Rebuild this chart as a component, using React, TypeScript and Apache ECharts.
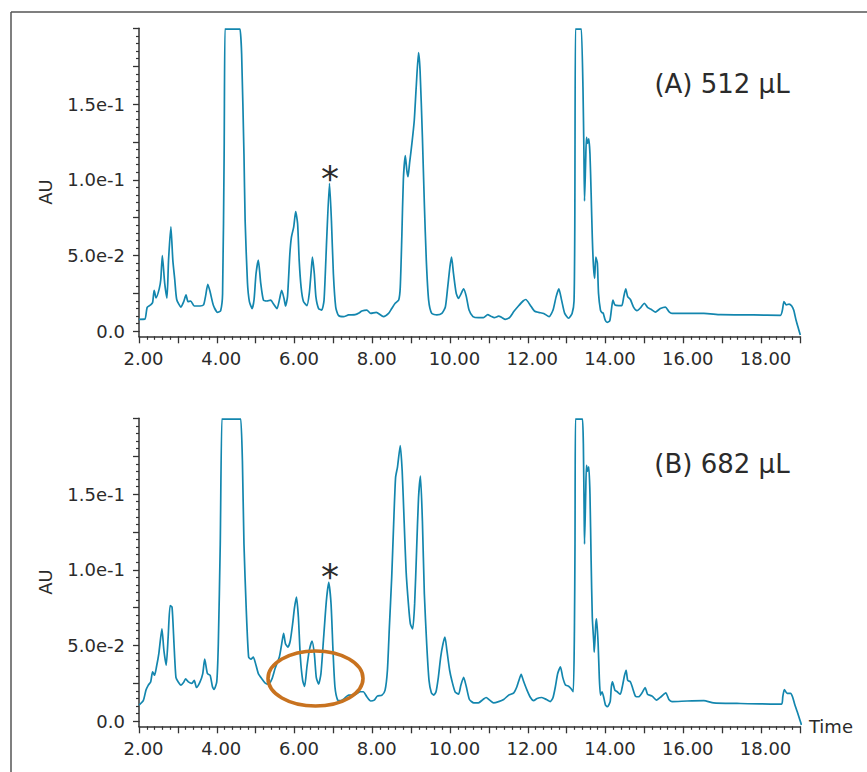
import React, { useEffect, useRef } from "react";
import * as echarts from "echarts";

// Chromatogram (A) 512 µL — retention time (min) and absorbance (AU)
const timeA = [
  2.0, 2.15, 2.21, 2.3, 2.35, 2.39, 2.44, 2.52, 2.56, 2.6, 2.66, 2.72, 2.76, 2.82, 2.87, 2.92, 2.97,
  3.08, 3.15, 3.21, 3.26, 3.33, 3.42, 3.57, 3.66, 3.71, 3.77, 3.83, 3.91, 4.02, 4.1, 4.15, 4.19,
  4.21, 4.23, 4.58, 4.6, 4.64, 4.7, 4.73, 4.79, 4.84, 4.91, 4.96, 5.01, 5.07, 5.13, 5.2, 5.29, 5.39, 5.46,
  5.55, 5.61, 5.67, 5.73, 5.77, 5.82, 5.88, 5.92, 5.98, 6.03, 6.08, 6.12, 6.17, 6.23, 6.32, 6.38,
  6.43, 6.46, 6.51, 6.55, 6.62, 6.7, 6.76, 6.83, 6.9, 6.95, 7.0, 7.06, 7.13, 7.26, 7.39, 7.56,
  7.67, 7.73, 7.86, 7.96, 8.1, 8.29, 8.42, 8.5, 8.59, 8.68, 8.72, 8.76, 8.8, 8.85, 8.89, 8.92,
  8.96, 9.02, 9.08, 9.13, 9.19, 9.23, 9.29, 9.34, 9.39, 9.45, 9.53, 9.66, 9.79, 9.88, 9.94, 10.0,
  10.04, 10.09, 10.16, 10.22, 10.28, 10.35, 10.42, 10.49, 10.59, 10.73, 10.86, 10.97, 11.05,
  11.14, 11.25, 11.34, 11.42, 11.53, 11.64, 11.76, 11.88, 11.95, 12.06, 12.17, 12.28, 12.41,
  12.55, 12.65, 12.73, 12.8, 12.87, 12.95, 13.05, 13.14, 13.19, 13.21, 13.225, 13.24, 13.36, 13.38, 13.42,
  13.445, 13.46, 13.49, 13.51, 13.54, 13.57, 13.6, 13.63, 13.66, 13.69, 13.72, 13.75, 13.79,
  13.82, 13.87, 13.91, 13.94, 13.99, 14.04, 14.11, 14.16, 14.19, 14.24, 14.34, 14.42, 14.47,
  14.52, 14.57, 14.64, 14.72, 14.81, 14.91, 15.0, 15.08, 15.17, 15.28, 15.41, 15.54, 15.63,
  15.71, 16.01, 16.53, 16.96, 17.81, 18.5, 18.55, 18.59, 18.65, 18.72, 18.79, 18.84, 18.9,
  18.96, 19.01,
];
const auA = [
  0.0079, 0.008, 0.0158, 0.0174, 0.019, 0.027, 0.022, 0.028, 0.034, 0.05, 0.032, 0.022, 0.047,
  0.069, 0.047, 0.034, 0.021, 0.016, 0.0196, 0.024, 0.0196, 0.02, 0.0167, 0.0167, 0.0174, 0.0229,
  0.031, 0.026, 0.0174, 0.0125, 0.0136, 0.025, 0.117, 0.1995, 0.1995, 0.1995, 0.1995, 0.183, 0.117, 0.073, 0.032,
  0.0196, 0.015, 0.021, 0.038, 0.047, 0.032, 0.0206, 0.02, 0.0206, 0.018, 0.015, 0.0206, 0.027,
  0.0217, 0.0167, 0.0229, 0.051, 0.062, 0.069, 0.079, 0.071, 0.047, 0.029, 0.0196, 0.017, 0.025,
  0.04, 0.049, 0.038, 0.0229, 0.015, 0.014, 0.0206, 0.062, 0.0977, 0.073, 0.038, 0.016, 0.0105,
  0.0097, 0.0108, 0.011, 0.0123, 0.0134, 0.014, 0.0118, 0.0125, 0.0097, 0.0118, 0.015, 0.0185,
  0.0206, 0.029, 0.062, 0.1, 0.116, 0.106, 0.102, 0.111, 0.124, 0.139, 0.161, 0.184, 0.172, 0.128,
  0.084, 0.047, 0.0206, 0.0118, 0.0108, 0.0118, 0.016, 0.029, 0.043, 0.049, 0.038, 0.025, 0.0217,
  0.0246, 0.028, 0.0229, 0.014, 0.0097, 0.009, 0.009, 0.011, 0.01, 0.009, 0.01, 0.009, 0.0079,
  0.009, 0.013, 0.0167, 0.02, 0.021, 0.0174, 0.0134, 0.0125, 0.0118, 0.0097, 0.014, 0.0229, 0.028,
  0.0206, 0.0118, 0.0086, 0.0118, 0.02, 0.07, 0.1995, 0.1995, 0.1995, 0.1995, 0.161, 0.117, 0.086, 0.113, 0.128,
  0.124, 0.127, 0.117, 0.091, 0.062, 0.043, 0.035, 0.049, 0.045, 0.025, 0.014, 0.0123, 0.012,
  0.0075, 0.0059, 0.007, 0.016, 0.0206, 0.0174, 0.017, 0.017, 0.0229, 0.028, 0.0229, 0.021, 0.016,
  0.0136, 0.0158, 0.0185, 0.0158, 0.0145, 0.0127, 0.015, 0.016, 0.013, 0.0118, 0.0118, 0.0118,
  0.011, 0.0108, 0.0105, 0.014, 0.0196, 0.0174, 0.018, 0.0167, 0.014, 0.0075, 0.002, -0.0024,
];

// Chromatogram (B) 682 µL
const timeB = [
  2.0, 2.11, 2.18, 2.24, 2.3, 2.35, 2.4, 2.45, 2.51, 2.59, 2.64, 2.7, 2.75, 2.8, 2.85, 2.9, 2.95,
  3.01, 3.08, 3.14, 3.2, 3.27, 3.36, 3.42, 3.48, 3.57, 3.64, 3.69, 3.76, 3.83, 3.89, 3.93, 4.0,
  4.04, 4.09, 4.13, 4.15, 4.6, 4.62, 4.66, 4.7, 4.76, 4.82, 4.88, 4.94, 5.01, 5.07, 5.16, 5.24, 5.33, 5.42,
  5.5, 5.61, 5.67, 5.72, 5.77, 5.83, 5.89, 5.95, 6.0, 6.05, 6.1, 6.15, 6.21, 6.26, 6.32, 6.38,
  6.45, 6.51, 6.56, 6.62, 6.68, 6.75, 6.82, 6.88, 6.94, 6.99, 7.04, 7.11, 7.19, 7.28, 7.39, 7.52,
  7.69, 7.77, 7.86, 7.96, 8.05, 8.13, 8.25, 8.33, 8.39, 8.44, 8.5, 8.55, 8.6, 8.65, 8.72, 8.77,
  8.82, 8.87, 8.93, 8.98, 9.04, 9.09, 9.14, 9.19, 9.24, 9.29, 9.34, 9.4, 9.46, 9.52, 9.58, 9.64,
  9.7, 9.76, 9.82, 9.87, 9.92, 9.99, 10.05, 10.13, 10.22, 10.28, 10.35, 10.42, 10.5, 10.61, 10.73,
  10.85, 10.93, 11.02, 11.12, 11.25, 11.38, 11.51, 11.64, 11.72, 11.78, 11.83, 11.89, 11.98,
  12.07, 12.15, 12.24, 12.36, 12.48, 12.58, 12.65, 12.71, 12.77, 12.84, 12.9, 12.97, 13.05,
  13.11, 13.17, 13.2, 13.215, 13.225, 13.24, 13.39, 13.41, 13.43, 13.45, 13.46, 13.49, 13.51, 13.54, 13.57,
  13.6, 13.63, 13.66, 13.7, 13.71, 13.75, 13.77, 13.81, 13.84, 13.87, 13.91, 13.95, 14.0, 14.05,
  14.12, 14.15, 14.18, 14.24, 14.3, 14.38, 14.44, 14.49, 14.53, 14.57, 14.64, 14.7, 14.77, 14.85,
  14.94, 15.02, 15.08, 15.2, 15.31, 15.43, 15.55, 15.63, 15.71, 16.1, 16.53, 16.78, 17.38, 18.24,
  18.53, 18.56, 18.6, 18.67, 18.76, 18.81, 18.86, 18.93, 19.0, 19.04,
];
const auB = [
  0.0107, 0.0136, 0.0206, 0.0239, 0.026, 0.0326, 0.0304, 0.036, 0.0447, 0.061, 0.0469, 0.037,
  0.0556, 0.0764, 0.0753, 0.0512, 0.029, 0.026, 0.0239, 0.0254, 0.028, 0.026, 0.025, 0.027, 0.0223,
  0.026, 0.0315, 0.041, 0.0315, 0.0304, 0.0228, 0.021, 0.026, 0.051, 0.117, 0.1995, 0.1995, 0.1995, 0.1995, 0.172,
  0.117, 0.073, 0.0424, 0.041, 0.0424, 0.037, 0.0315, 0.028, 0.0254, 0.0245, 0.028, 0.0348, 0.0424,
  0.051, 0.058, 0.051, 0.049, 0.053, 0.064, 0.075, 0.082, 0.0687, 0.0424, 0.027, 0.023, 0.036,
  0.0468, 0.053, 0.0445, 0.029, 0.0245, 0.0315, 0.0556, 0.0797, 0.0917, 0.0775, 0.0468, 0.0228,
  0.014, 0.0136, 0.015, 0.0173, 0.0173, 0.0195, 0.0195, 0.0162, 0.0134, 0.014, 0.0166, 0.0173,
  0.0206, 0.0337, 0.062, 0.095, 0.13, 0.161, 0.168, 0.182, 0.165, 0.132, 0.0994, 0.0775, 0.0643,
  0.061, 0.0775, 0.1125, 0.1475, 0.1618, 0.132, 0.084, 0.0512, 0.027, 0.0188, 0.0173, 0.0195, 0.029,
  0.0424, 0.0512, 0.0556, 0.0468, 0.0337, 0.0266, 0.0195, 0.0179, 0.0239, 0.029, 0.0228, 0.0144,
  0.0122, 0.0122, 0.0144, 0.0157, 0.014, 0.0122, 0.013, 0.0144, 0.0173, 0.0188, 0.0228, 0.0276,
  0.031, 0.0266, 0.0206, 0.0157, 0.0136, 0.0151, 0.0157, 0.0144, 0.013, 0.0157, 0.0228, 0.0315,
  0.036, 0.029, 0.0239, 0.0232, 0.0217, 0.0195, 0.06, 0.117, 0.1995, 0.1995, 0.1995, 0.1995, 0.183, 0.139, 0.117,
  0.15, 0.169, 0.165, 0.168, 0.15, 0.106, 0.0687, 0.0512, 0.0457, 0.0643, 0.0676, 0.0512, 0.029,
  0.0173, 0.0195, 0.0162, 0.0107, 0.0096, 0.013, 0.0228, 0.026, 0.0206, 0.0195, 0.0179, 0.0239,
  0.0304, 0.0337, 0.0271, 0.026, 0.0217, 0.0166, 0.0162, 0.0188, 0.0223, 0.0179, 0.0166, 0.014,
  0.0162, 0.0188, 0.0144, 0.013, 0.0134, 0.0136, 0.0122, 0.0118, 0.0114, 0.0114, 0.0162, 0.021,
  0.0184, 0.0184, 0.0162, 0.0118, 0.0064, 0.0009, -0.0024,
];

const panelLabels = ["(A) 512 µL", "(B) 682 µL"];
const yAxisTitle = "AU";
const xAxisTitle = "Time";
const peakMark = "*";

const FONT = '"DejaVu Sans", Verdana, sans-serif';
const TEXT = "#2b2b2b";
const AXIS = "#333333";
const TRACE = "#1386ae";

function isMultiple(v: number, step: number) {
  const r = v / step;
  return Math.abs(r - Math.round(r)) < 1e-6;
}

function zip(t: number[], a: number[]) {
  return t.map((x, i) => [x, a[i]]);
}

export default function App() {
  const ref = useRef<HTMLDivElement>(null);

  useEffect(() => {
    if (!ref.current) return;
    const chart = echarts.init(ref.current, undefined, { renderer: "svg" });

    const gridTops = [28.3, 418.3];
    const gridH = 303;

    const grid = gridTops.map((top) => ({
      left: 139,
      right: 67.1,
      top,
      height: gridH,
      containLabel: false,
    }));

    const xAxis = [0, 1].map((i) => ({
      type: "value",
      gridIndex: i,
      min: 2,
      max: 19,
      interval: 1,
      offset: 5,
      position: "bottom",
      name: i === 1 ? xAxisTitle : "",
      nameLocation: "end",
      nameGap: 9,
      nameTextStyle: {
        fontFamily: FONT,
        fontSize: 18,
        color: TEXT,
        align: "left",
        verticalAlign: "middle",
      },
      axisLine: { show: true, onZero: false, lineStyle: { color: AXIS, width: 1.5 } },
      axisTick: { show: true, length: 7, lineStyle: { color: AXIS, width: 1.3 } },
      minorTick: { show: true, splitNumber: 5, length: 3.5, lineStyle: { color: AXIS, width: 1.2 } },
      splitLine: { show: false },
      minorSplitLine: { show: false },
      axisLabel: {
        fontFamily: FONT,
        fontSize: 18,
        color: TEXT,
        margin: 13,
        padding: [0, 0, 0, 9],
        formatter: (v: number) => (isMultiple(v, 2) && v <= 18.001 ? v.toFixed(2) : ""),
      },
    }));

    const yAxis = [0, 1].map((i) => ({
      type: "value",
      gridIndex: i,
      min: 0,
      max: 0.2,
      interval: 0.025,
      axisLine: { show: true, onZero: false, lineStyle: { color: AXIS, width: 1.5 } },
      axisTick: { show: true, length: 6, lineStyle: { color: AXIS, width: 1.3 } },
      minorTick: { show: true, splitNumber: 5, length: 3, lineStyle: { color: AXIS, width: 1.2 } },
      splitLine: { show: false },
      minorSplitLine: { show: false },
      axisLabel: {
        fontFamily: FONT,
        fontSize: 18,
        color: TEXT,
        margin: 14,
        padding: [4, 0, 0, 0],
        formatter: (v: number) => {
          if (!isMultiple(v, 0.05) || v > 0.19) return "";
          if (Math.abs(v) < 1e-9) return "0.0";
          return v.toExponential(1);
        },
      },
    }));

    const series = [zip(timeA, auA), zip(timeB, auB)].map((data, i) => ({
      type: "line",
      xAxisIndex: i,
      yAxisIndex: i,
      data,
      showSymbol: false,
      clip: false,
      smooth: 0.2,
      lineStyle: { color: TRACE, width: 1.7 },
      silent: true,
    }));

    const text = (t: string, x: number, y: number, size: number, extra: any = {}) => ({
      type: "text",
      x,
      y,
      z: 100,
      ...extra,
      style: {
        text: t,
        font: `${size}px ${FONT}`,
        fill: TEXT,
        align: "center",
        verticalAlign: "middle",
      },
    });

    const graphic = [
      // outer frame (left and top edges)
      { type: "line", shape: { x1: 11, y1: 12, x2: 11, y2: 772 }, style: { stroke: "#555", lineWidth: 1.5 } },
      { type: "line", shape: { x1: 11, y1: 12, x2: 867, y2: 12 }, style: { stroke: "#555", lineWidth: 1.5 } },
      // y-axis continuation down to the offset x-axis
      { type: "line", shape: { x1: 139, y1: 331, x2: 139, y2: 337 }, style: { stroke: AXIS, lineWidth: 1.5 } },
      { type: "line", shape: { x1: 139, y1: 721, x2: 139, y2: 727 }, style: { stroke: AXIS, lineWidth: 1.5 } },
      text(yAxisTitle, 45, 192, 18, { rotation: Math.PI / 2 }),
      text(yAxisTitle, 45, 582, 18, { rotation: Math.PI / 2 }),
      text(panelLabels[0], 722, 84, 26),
      text(panelLabels[1], 722, 464, 26),
      text(peakMark, 330, 178, 36),
      text(peakMark, 330, 576, 36),
      {
        type: "ellipse",
        z: 100,
        shape: { cx: 315.5, cy: 678.5, rx: 47.5, ry: 27.5 },
        style: { fill: "none", stroke: "#c8721f", lineWidth: 3.6 },
      },
    ];

    chart.setOption({
      animation: false,
      backgroundColor: "#ffffff",
      grid,
      xAxis,
      yAxis,
      series,
      graphic,
    } as any);

    return () => chart.dispose();
  }, []);

  return (
    <div
      ref={ref}
      style={{ position: "fixed", left: 0, top: 0, width: 867, height: 772, background: "#fff" }}
    />
  );
}
